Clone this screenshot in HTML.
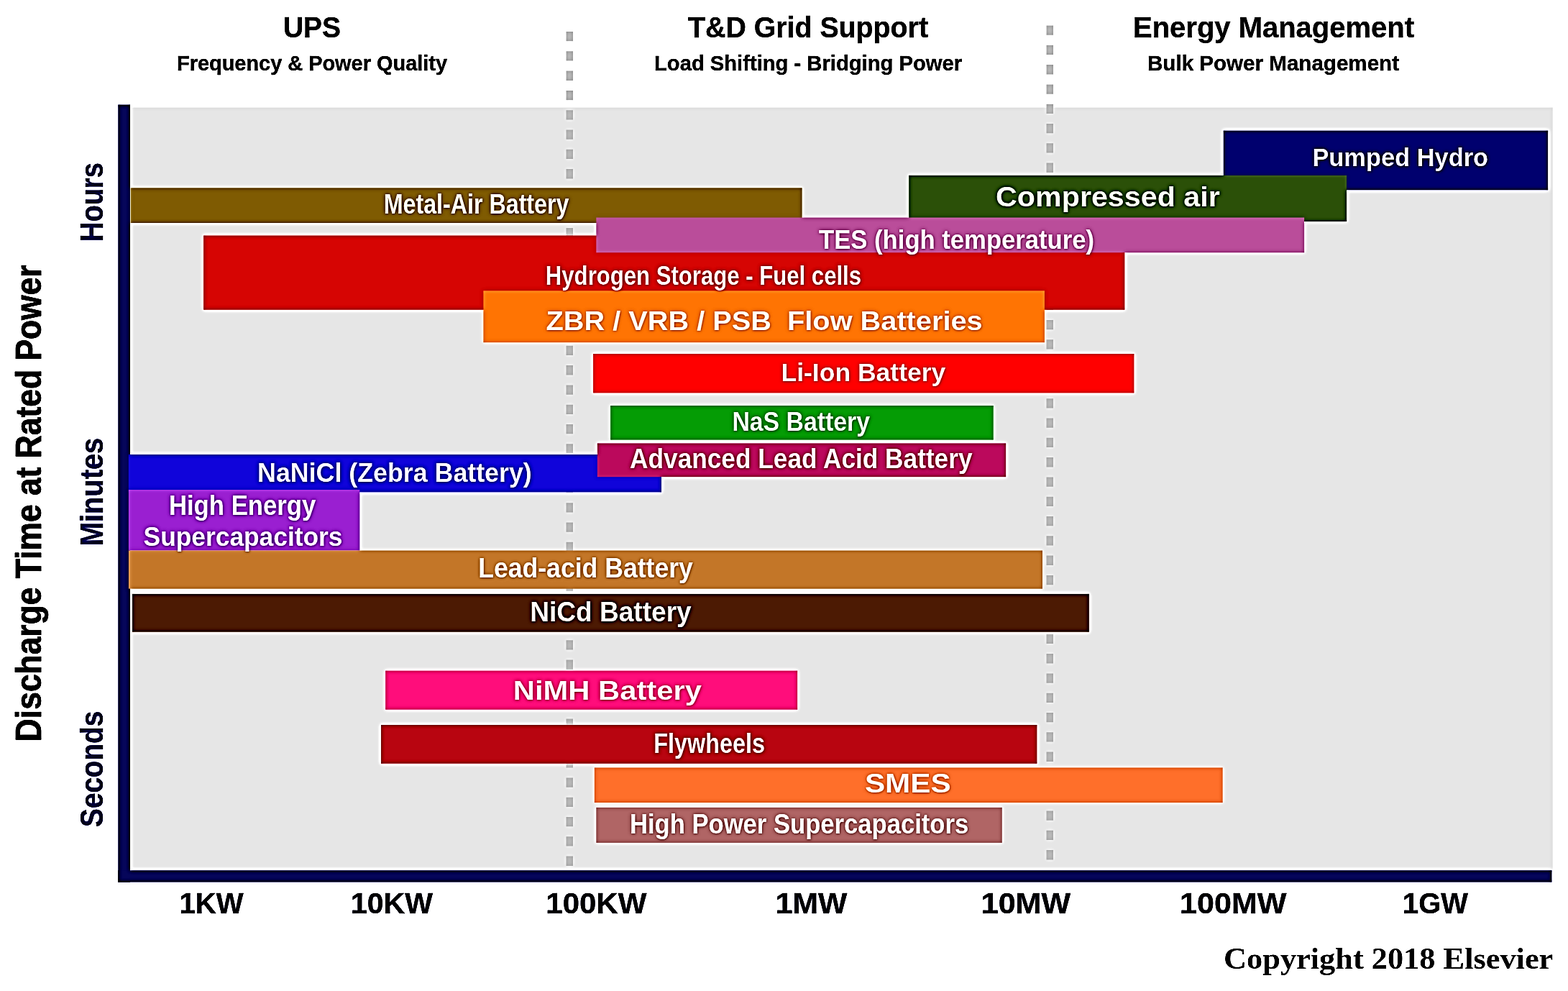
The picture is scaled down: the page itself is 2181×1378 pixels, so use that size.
<!DOCTYPE html>
<html lang="en"><head><meta charset="utf-8"><title>Energy storage technologies: discharge time at rated power</title>
<style>
html,body{margin:0;padding:0;background:#fff}
body{width:2181px;height:1378px;overflow:hidden}
svg{display:block}
text{font-family:"Liberation Sans",Arial,sans-serif;font-weight:700;white-space:pre}
.lb{fill:#fff;stroke-width:.2px;filter:url(#sh)}
.hd{fill:#0e0e0e;stroke:#0e0e0e;stroke-width:.35px}
.xt{fill:#06061f;stroke:#06061f;stroke-width:.4px}
.rt{stroke-linejoin:round}
.cp{font-family:"Liberation Serif","Times New Roman",serif;font-weight:700;fill:#0c0c0c}
</style></head><body>
<svg xmlns="http://www.w3.org/2000/svg" width="2181" height="1378" viewBox="0 0 2181 1378">
<defs>
<filter id="sh" x="-5%" y="-30%" width="110%" height="160%"><feDropShadow dx="0.4" dy="0.7" stdDeviation="0.9" flood-color="#000" flood-opacity="0.3"/></filter>
<filter id="usm" filterUnits="userSpaceOnUse" x="0" y="0" width="2181" height="1378" color-interpolation-filters="sRGB">
<feGaussianBlur in="SourceGraphic" stdDeviation="0.75" result="soft"/>
<feGaussianBlur in="soft" stdDeviation="2.6" result="blur"/>
<feColorMatrix in="soft" type="matrix" values="0.299 0.587 0.114 0 0 0.299 0.587 0.114 0 0 0.299 0.587 0.114 0 0 0 0 0 0 1" result="ls"/>
<feColorMatrix in="blur" type="matrix" values="-0.299 -0.587 -0.114 0 1 -0.299 -0.587 -0.114 0 1 -0.299 -0.587 -0.114 0 1 0 0 0 0 1" result="lb"/>
<feComposite in="ls" in2="lb" operator="arithmetic" k1="0" k2="0.5" k3="0.5" k4="0" result="d"/>
<feComposite in="soft" in2="d" operator="arithmetic" k1="0" k2="1" k3="2.0" k4="-1.0039"/>
</filter>
</defs>
<g filter="url(#usm)">
<rect width="2181" height="1378" fill="#fff"/>
<rect x="181" y="149.5" width="1978.7" height="1062" fill="#e6e6e6"/>
<line x1="792.25" y1="44" x2="792.25" y2="1203.9" stroke="#bcbcbc" stroke-width="9.5" stroke-dasharray="13.3 14"/>
<line x1="1460.25" y1="35.5" x2="1460.25" y2="1195.4" stroke="#bcbcbc" stroke-width="9.5" stroke-dasharray="13.3 14"/>
<rect x="164.3" y="145.5" width="16.7" height="1081.1" fill="#06065a"/>
<rect x="164.3" y="1210.3" width="1994.2" height="16.3" fill="#06065a"/>
<rect x="1701.7" y="181.6" width="451.5" height="82.7" fill="#00006e"/>
<rect x="181.5" y="261.3" width="934.1" height="48.7" fill="#7f5b02"/>
<rect x="1264.2" y="243.8" width="609" height="64.2" fill="#2b5008"/>
<rect x="283.2" y="327.5" width="1281.2" height="103.2" fill="#d60503"/>
<rect x="829.3" y="302.5" width="984.9" height="48.8" fill="#ba4d9a"/>
<rect x="672.4" y="404.3" width="780.5" height="71.9" fill="#ff7403"/>
<rect x="825.2" y="492" width="752.2" height="54.4" fill="#ff0000"/>
<rect x="849.2" y="564" width="532.5" height="47.6" fill="#059c05"/>
<rect x="178.8" y="632" width="741.2" height="52.4" fill="#1004da"/>
<rect x="830.8" y="616.4" width="568.4" height="46.8" fill="#bb095c"/>
<rect x="178.8" y="681" width="321.6" height="84.6" fill="#9a1fd1"/>
<rect x="178.8" y="765.5" width="1271.2" height="53.2" fill="#c5782a"/>
<rect x="183.8" y="825.8" width="1331" height="52.9" fill="#4c1a03"/>
<rect x="536.2" y="932.6" width="573" height="54.1" fill="#ff0d7b"/>
<rect x="530" y="1008" width="912.4" height="53.7" fill="#b80510"/>
<rect x="826.8" y="1067.4" width="873.9" height="48.7" fill="#ff6f2a"/>
<rect x="829.3" y="1122.8" width="564.5" height="49.1" fill="#b06565"/>
<text class="lb" stroke="#00006e" x="1825.38" y="231" font-size="34.5" textLength="244.72" lengthAdjust="spacingAndGlyphs" xml:space="preserve">Pumped Hydro</text>
<text class="lb" stroke="#2b5008" x="1385.1" y="287" font-size="38" textLength="311.61" lengthAdjust="spacingAndGlyphs" xml:space="preserve">Compressed air</text>
<text class="lb" stroke="#7f5b02" x="533.71" y="297" font-size="38.5" textLength="257.75" lengthAdjust="spacingAndGlyphs" xml:space="preserve">Metal-Air Battery</text>
<text class="lb" stroke="#ba4d9a" x="1139.12" y="346" font-size="36" textLength="382.88" lengthAdjust="spacingAndGlyphs" xml:space="preserve">TES (high temperature)</text>
<text class="lb" stroke="#d60503" x="758.85" y="396" font-size="36" textLength="439.2" lengthAdjust="spacingAndGlyphs" xml:space="preserve">Hydrogen Storage - Fuel cells</text>
<text class="lb" stroke="#ff7403" x="759.44" y="459" font-size="36" textLength="607.23" lengthAdjust="spacingAndGlyphs" xml:space="preserve">ZBR / VRB / PSB  Flow Batteries</text>
<text class="lb" stroke="#ff0000" x="1086.45" y="530" font-size="34.5" textLength="228.87" lengthAdjust="spacingAndGlyphs" xml:space="preserve">Li-Ion Battery</text>
<text class="lb" stroke="#059c05" x="1018.39" y="599" font-size="36" textLength="191.6" lengthAdjust="spacingAndGlyphs" xml:space="preserve">NaS Battery</text>
<text class="lb" stroke="#bb095c" x="876.12" y="651" font-size="38" textLength="476.4" lengthAdjust="spacingAndGlyphs" xml:space="preserve">Advanced Lead Acid Battery</text>
<text class="lb" stroke="#1004da" x="358.07" y="670" font-size="36" textLength="381.69" lengthAdjust="spacingAndGlyphs" xml:space="preserve">NaNiCl (Zebra Battery)</text>
<text class="lb" stroke="#9a1fd1" x="234.94" y="716" font-size="38" textLength="204.28" lengthAdjust="spacingAndGlyphs" xml:space="preserve">High Energy</text>
<text class="lb" stroke="#9a1fd1" x="199.61" y="759" font-size="36" textLength="276.89" lengthAdjust="spacingAndGlyphs" xml:space="preserve">Supercapacitors</text>
<text class="lb" stroke="#c5782a" x="665.15" y="803" font-size="39.5" textLength="298.73" lengthAdjust="spacingAndGlyphs" xml:space="preserve">Lead-acid Battery</text>
<text class="lb" stroke="#4c1a03" x="737.21" y="864" font-size="38" textLength="224.47" lengthAdjust="spacingAndGlyphs" xml:space="preserve">NiCd Battery</text>
<text class="lb" stroke="#ff0d7b" x="713.83" y="973" font-size="36" textLength="262.11" lengthAdjust="spacingAndGlyphs" xml:space="preserve">NiMH Battery</text>
<text class="lb" stroke="#b80510" x="909.21" y="1047" font-size="38" textLength="154.74" lengthAdjust="spacingAndGlyphs" xml:space="preserve">Flywheels</text>
<text class="lb" stroke="#ff6f2a" x="1202.98" y="1102" font-size="36" textLength="119.62" lengthAdjust="spacingAndGlyphs" xml:space="preserve">SMES</text>
<text class="lb" stroke="#b06565" x="875.89" y="1159" font-size="38.5" textLength="471.3" lengthAdjust="spacingAndGlyphs" xml:space="preserve">High Power Supercapacitors</text>
<text class="hd" x="394" y="52" font-size="40" textLength="80" lengthAdjust="spacingAndGlyphs">UPS</text>
<text class="hd" x="246" y="97.7" font-size="29.6" textLength="376" lengthAdjust="spacingAndGlyphs">Frequency &amp; Power Quality</text>
<text class="hd" x="957" y="52" font-size="40" textLength="334" lengthAdjust="spacingAndGlyphs">T&amp;D Grid Support</text>
<text class="hd" x="910" y="97.7" font-size="29.6" textLength="428" lengthAdjust="spacingAndGlyphs">Load Shifting - Bridging Power</text>
<text class="hd" x="1576" y="52" font-size="40" textLength="391" lengthAdjust="spacingAndGlyphs">Energy Management</text>
<text class="hd" x="1596" y="97.7" font-size="29.6" textLength="350" lengthAdjust="spacingAndGlyphs">Bulk Power Management</text>
<text class="xt" x="249.5" y="1269.8" font-size="41" textLength="89" lengthAdjust="spacingAndGlyphs">1KW</text>
<text class="xt" x="488" y="1269.8" font-size="41" textLength="113.8" lengthAdjust="spacingAndGlyphs">10KW</text>
<text class="xt" x="759.3" y="1269.8" font-size="41" textLength="140" lengthAdjust="spacingAndGlyphs">100KW</text>
<text class="xt" x="1078.8" y="1269.8" font-size="41" textLength="99.5" lengthAdjust="spacingAndGlyphs">1MW</text>
<text class="xt" x="1364.8" y="1269.8" font-size="41" textLength="124.2" lengthAdjust="spacingAndGlyphs">10MW</text>
<text class="xt" x="1641" y="1269.8" font-size="41" textLength="148.5" lengthAdjust="spacingAndGlyphs">100MW</text>
<text class="xt" x="1951" y="1269.8" font-size="41" textLength="90.8" lengthAdjust="spacingAndGlyphs">1GW</text>
<text class="rt" transform="translate(57 1031.2) rotate(-90)" x="0" y="0" font-size="50" fill="#101010" stroke="#101010" stroke-width="0.9" textLength="662.8" lengthAdjust="spacingAndGlyphs">Discharge Time at Rated Power</text>
<text class="rt" transform="translate(142.7 336) rotate(-90)" x="0" y="0" font-size="44" fill="#0a0a62" stroke="#0a0a62" stroke-width="0.5" textLength="109.8" lengthAdjust="spacingAndGlyphs">Hours</text>
<text class="rt" transform="translate(142.7 759.2) rotate(-90)" x="0" y="0" font-size="44" fill="#0a0a62" stroke="#0a0a62" stroke-width="0.5" textLength="150.4" lengthAdjust="spacingAndGlyphs">Minutes</text>
<text class="rt" transform="translate(142.7 1149.9) rotate(-90)" x="0" y="0" font-size="44" fill="#0a0a62" stroke="#0a0a62" stroke-width="0.5" textLength="161.1" lengthAdjust="spacingAndGlyphs">Seconds</text>
<text class="cp" x="1702" y="1347" font-size="41.5" textLength="458.3" lengthAdjust="spacingAndGlyphs">Copyright 2018 Elsevier</text>
</g>
</svg>
</body></html>
